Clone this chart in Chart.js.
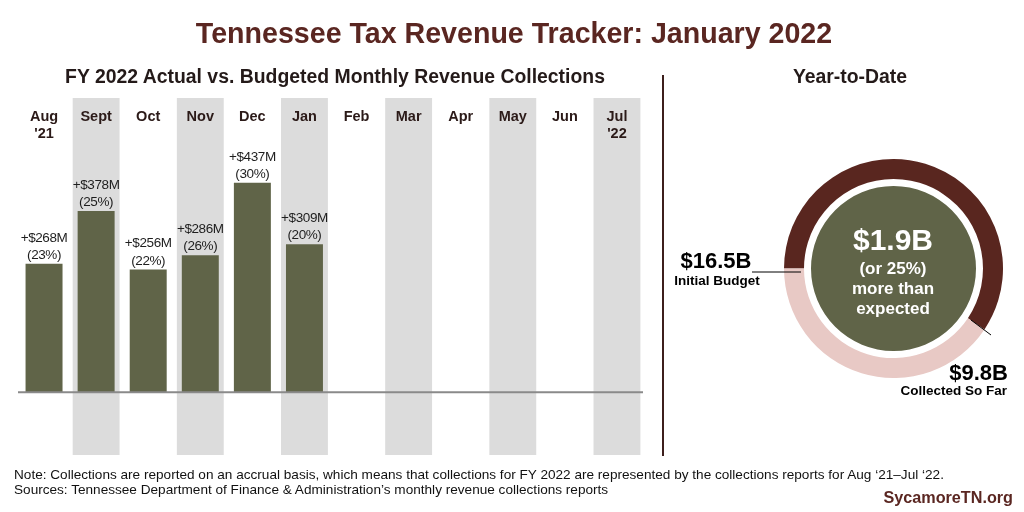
<!DOCTYPE html>
<html>
<head>
<meta charset="utf-8">
<script src="https://cdn.jsdelivr.net/npm/chart.js@4.4.1/dist/chart.umd.min.js"></script>
<style>
  body { margin: 0; background: #fff; font-family: "Liberation Sans", Arial, sans-serif; }
  #wrap { position: relative; width: 1024px; height: 512px; overflow: hidden; }
  .t { position: absolute; white-space: nowrap; transform: translate(-50%, -50%); line-height: 1; }
  .b { font-weight: bold; }
  #bars { position: absolute; left: 0; top: 0; }
  #ytd { position: absolute; left: 784px; top: 159px; }
  svg { position: absolute; left: 0; top: 0; }
</style>
</head>
<body>
<div id="wrap">
  <canvas id="bars" width="1024" height="512"></canvas>
  <canvas id="ytd" width="219" height="219"></canvas>
  <svg width="1024" height="512">
    <line x1="663" y1="75" x2="663" y2="456" stroke="#3d1f1c" stroke-width="2"/>
    <line x1="752" y1="272" x2="801" y2="272" stroke="#000" stroke-width="1"/>
    <line x1="971" y1="320" x2="991" y2="335" stroke="#000" stroke-width="1"/>
  </svg>

  <div class="t b" style="left:514px; top:33px; font-size:28.6px; color:#5a2621;">Tennessee Tax Revenue Tracker: January 2022</div>
  <div class="t b" style="left:335px; top:77px; font-size:19.4px; color:#241a19;">FY 2022 Actual vs. Budgeted Monthly Revenue Collections</div>
  <div class="t b" style="left:850px; top:77px; font-size:19.4px; color:#241a19;">Year-to-Date</div>

  <div class="t b" style="left:893px; top:240px; font-size:30px; color:#fff;" id="aboveTxt"></div>
  <div class="t b" style="left:893px; top:268px; font-size:17px; color:#fff;" id="abovePctTxt"></div>
  <div class="t b" style="left:893px; top:288px; font-size:17px; color:#fff;">more than</div>
  <div class="t b" style="left:893px; top:308px; font-size:17px; color:#fff;">expected</div>

  <div class="t b" style="left:716px; top:261px; font-size:22px; color:#000;" id="budgetTxt"></div>
  <div class="t b" style="left:717px; top:281px; font-size:13.5px; color:#000;">Initial Budget</div>
  <div class="t b" style="left:1008px; top:373px; font-size:22px; color:#000; transform:translate(-100%,-50%);" id="collectedTxt"></div>
  <div class="t b" style="left:1007px; top:391px; font-size:13.5px; color:#000; transform:translate(-100%,-50%);">Collected So Far</div>

  <div class="t" style="left:14px; top:475px; font-size:13.6px; color:#111; transform:translate(0,-50%);">Note: Collections are reported on an accrual basis, which means that collections for FY 2022 are represented by the collections reports for Aug ‘21–Jul ‘22.</div>
  <div class="t" style="left:14px; top:490px; font-size:13.6px; color:#111; transform:translate(0,-50%);">Sources: Tennessee Department of Finance &amp; Administration’s monthly revenue collections reports</div>
  <div class="t b" style="left:1013px; top:497px; font-size:16.2px; color:#5a2621; transform:translate(-100%,-50%);">SycamoreTN.org</div>
</div>

<script>
// monthly collections above budget, FY 2022 ($M)
const months = ['Aug', 'Sept', 'Oct', 'Nov', 'Dec', 'Jan', 'Feb', 'Mar', 'Apr', 'May', 'Jun', 'Jul'];
const monthYears = ["'21", '', '', '', '', '', '', '', '', '', '', "'22"];
const aboveBudget = [268, 378, 256, 286, 437, 309, null, null, null, null, null, null];
const abovePct = [23, 25, 22, 26, 30, 20, null, null, null, null, null, null];

// year-to-date ($B)
const ytdBudget = 16.5;
const ytdCollected = 9.8;
const ytdAbove = 1.9;
const ytdAbovePct = 25;

const yMin = -131, yMax = 614;
// shaded band behind every other month
const band = months.map((m, i) => i % 2 === 1 ? [yMin, yMax] : null);

document.getElementById('aboveTxt').textContent = '$' + ytdAbove + 'B';
document.getElementById('abovePctTxt').textContent = '(or ' + ytdAbovePct + '%)';
document.getElementById('budgetTxt').textContent = '$' + ytdBudget + 'B';
document.getElementById('collectedTxt').textContent = '$' + ytdCollected + 'B';

const barLabels = {
    id: 'barLabels',
    afterDatasetsDraw(chart) {
        const ctx = chart.ctx;
        const x = chart.scales.x, y = chart.scales.y;
        const area = chart.chartArea;
        ctx.save();
        // baseline
        ctx.strokeStyle = '#8a8a8a';
        ctx.lineWidth = 2;
        ctx.beginPath();
        ctx.moveTo(area.left, y.getPixelForValue(0));
        ctx.lineTo(area.right, y.getPixelForValue(0));
        ctx.stroke();

        ctx.textAlign = 'center';
        ctx.textBaseline = 'middle';
        ctx.fillStyle = '#2b1a18';
        ctx.font = 'bold 14.5px "Liberation Sans", Arial';
        months.forEach((m, i) => {
            const px = x.getPixelForValue(i);
            ctx.fillText(m, px, 117);
            if (monthYears[i]) ctx.fillText(monthYears[i], px, 134);
        });

        ctx.fillStyle = '#1e1e1e';
        ctx.font = '13.5px "Liberation Sans", Arial';
        ctx.letterSpacing = '-0.4px';
        aboveBudget.forEach((v, i) => {
            if (v == null) return;
            const px = x.getPixelForValue(i);
            const top = y.getPixelForValue(v);
            ctx.fillText('+$' + v + 'M', px, top - 26);
            ctx.fillText('(' + abovePct[i] + '%)', px, top - 8.5);
        });
        ctx.restore();
    }
};

new Chart(document.getElementById('bars'), {
    type: 'bar',
    data: {
        labels: months,
        datasets: [
            {
                data: aboveBudget,
                backgroundColor: '#606448',
                barPercentage: 0.71,
                categoryPercentage: 1,
                grouped: false,
                order: 0
            },
            {
                data: band,
                backgroundColor: '#dcdcdc',
                barPercentage: 0.9,
                categoryPercentage: 1,
                grouped: false,
                order: 1
            }
        ]
    },
    options: {
        responsive: false,
        animation: false,
        layout: { padding: { left: 18, right: 381, top: 98, bottom: 57 } },
        scales: {
            x: { display: false },
            y: { display: false, min: yMin, max: yMax }
        },
        plugins: { legend: { display: false }, tooltip: { enabled: false } }
    },
    plugins: [barLabels]
});

new Chart(document.getElementById('ytd'), {
    type: 'doughnut',
    data: {
        labels: ['Collected', 'Remaining'],
        datasets: [
            {
                data: [ytdCollected, ytdBudget - ytdCollected],
                backgroundColor: ['#59261f', '#e8c9c5'],
                borderWidth: 0,
                weight: 20
            },
            {
                data: [ytdAbove],
                backgroundColor: ['rgba(0,0,0,0)'],
                borderWidth: 0,
                weight: 7
            },
            {
                data: [ytdAbove],
                backgroundColor: ['#606448'],
                borderWidth: 0,
                weight: 82.5
            }
        ]
    },
    options: {
        responsive: false,
        animation: false,
        cutout: 0,
        rotation: -90,
        layout: { padding: 0 },
        plugins: { legend: { display: false }, tooltip: { enabled: false } }
    }
});
</script>
</body>
</html>
